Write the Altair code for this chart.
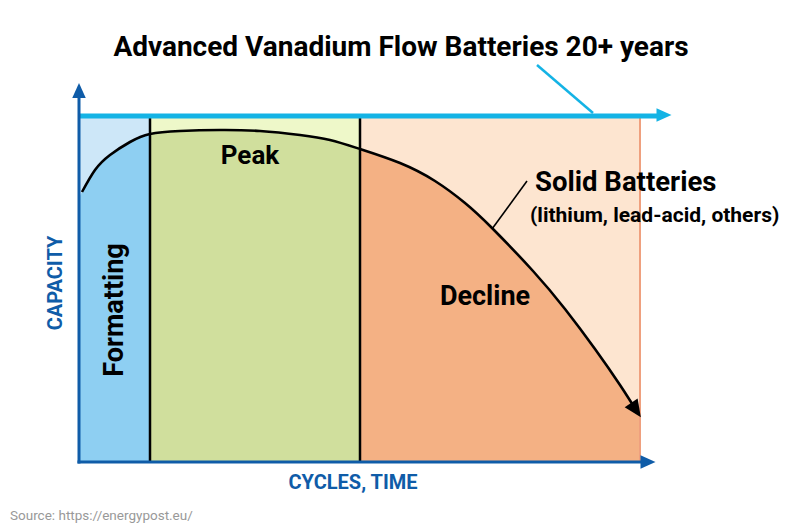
import altair as alt
import pandas as pd

# ---- data (arbitrary units: x = cycles/time, y = capacity) ----
phases = ["Formatting", "Peak", "Decline"]
phase_start = [0, 71, 281]
phase_end = [71, 281, 561]
phase_top = [346, 346, 346]

curve_x = [3, 16, 31, 51, 71, 101, 141, 181, 221, 251, 281, 321, 356, 386, 413, 454, 486, 516, 541, 557]
curve_y = [270, 292, 307, 320, 328, 331, 332, 331, 327, 322, 313, 299, 281, 259, 234, 191, 153, 113, 77, 52]
fill_left = (0, 264)
fill_right = (562, 44)

vanadium_level = 346
vanadium_end = 578
axis_x_end = 562
axis_y_end = 372

light_colors = ["#CDE7F8", "#EEF8C9", "#FDE5D0"]
dark_colors = ["#8ECFF2", "#D0DF9D", "#F4B184"]
BLUE = "#0F5CA8"
CYAN = "#14B3E5"
CURVE = "natural"

XS = alt.Scale(domain=[0, 600], nice=False, zero=False)
YS = alt.Scale(domain=[0, 380], nice=False, zero=False)


def X(f):
    return alt.X(f, type="quantitative", scale=XS, axis=None)


def Y(f, **kw):
    return alt.Y(f, type="quantitative", scale=YS, axis=None, **kw)


layers = []

# region backgrounds (light)
for p, s, e, t, c in zip(phases, phase_start, phase_end, phase_top, light_colors):
    d = pd.DataFrame({"phase": [p], "x": [s], "x2": [e], "y": [0], "y2": [t]})
    layers.append(alt.Chart(d).mark_rect(color=c, opacity=1).encode(
        x=X("x"), x2="x2", y=Y("y"), y2="y2"))

# areas under the curve, split by phase (dark)
ax = [fill_left[0]] + curve_x + [fill_right[0]]
ay = [fill_left[1]] + curve_y + [fill_right[1]]
for p, s, e, c in zip(phases, phase_start, phase_end, dark_colors):
    pts = [(xv, yv) for xv, yv in zip(ax, ay) if s <= xv <= e]
    if pts[-1][0] < e:
        pts.append((e, pts[-1][1]))
    d = pd.DataFrame({"x": [q[0] for q in pts], "y": [q[1] for q in pts]})
    layers.append(alt.Chart(d).mark_area(color=c, opacity=1, interpolate=CURVE).encode(
        x=X("x"), y=Y("y"), y2=alt.datum(0)))

# salmon right edge
layers.append(alt.Chart(pd.DataFrame({"x": [phase_end[2]], "y": [0], "y2": [phase_top[2]]})).mark_rule(
    color="#EFA07E", strokeWidth=2).encode(x=X("x"), y=Y("y"), y2="y2"))

# black separators
layers.append(alt.Chart(pd.DataFrame({"x": phase_end[:2], "y": [0, 0], "y2": phase_top[:2]})).mark_rule(
    color="black", strokeWidth=2.5).encode(x=X("x"), y=Y("y"), y2="y2"))

# vanadium line
layers.append(alt.Chart(pd.DataFrame({"x": [0], "x2": [vanadium_end], "y": [vanadium_level]})).mark_rule(
    color=CYAN, strokeWidth=5).encode(x=X("x"), x2="x2", y=Y("y")))

# axes
axes_df = pd.DataFrame({"x": [0, -1.5], "x2": [0, axis_x_end], "y": [-1.5, 0], "y2": [axis_y_end, 0]})
layers.append(alt.Chart(axes_df).mark_rule(color=BLUE, strokeWidth=3).encode(
    x=X("x"), x2="x2", y=Y("y"), y2="y2"))

TRI = "M0,-1L0.9,1L-0.9,1Z"
for xv, yv, ang, col in [(0, 371.5, 0, BLUE), (569, 0, 90, BLUE), (585, 347, 90, CYAN)]:
    layers.append(alt.Chart(pd.DataFrame({"x": [xv], "y": [yv]})).mark_point(
        shape=TRI, filled=True, opacity=1, size=225, color=col, angle=ang).encode(x=X("x"), y=Y("y")))

# curve
cdf = pd.DataFrame({"x": curve_x, "y": curve_y})
layers.append(alt.Chart(cdf).mark_line(color="black", strokeWidth=2.6, interpolate=CURVE).encode(
    x=X("x"), y=Y("y"), order=alt.Order("x:Q")))
layers.append(alt.Chart(pd.DataFrame({"x": [curve_x[-1]], "y": [curve_y[-1]]})).mark_point(
    shape=TRI, filled=True, opacity=1, size=300, color="black", angle=146).encode(x=X("x"), y=Y("y")))

# leader lines
layers.append(alt.Chart(pd.DataFrame({"x": [458], "y": [397], "x2": [514], "y2": [349]})).mark_rule(
    color=CYAN, strokeWidth=2.5).encode(x=X("x"), y=Y("y"), x2="x2", y2="y2"))
layers.append(alt.Chart(pd.DataFrame({"x": [448], "y": [281], "x2": [413], "y2": [233]})).mark_rule(
    color="black", strokeWidth=1.6).encode(x=X("x"), y=Y("y"), x2="x2", y2="y2"))

FONT = "Roboto"


def label(text, x, y, size, color="black", align="center", angle=0, weight="bold", baseline="middle"):
    kw = dict(text=text, fontSize=size, color=color, align=align, baseline=baseline,
              fontWeight=weight, font=FONT)
    if angle:
        kw["angle"] = angle
    return alt.Chart(pd.DataFrame({"x": [x], "y": [y]})).mark_text(**kw).encode(x=X("x"), y=Y("y"))


layers += [
    label("Advanced Vanadium Flow Batteries 20+ years", 322, 414, 28),
    label("Peak", 171, 306, 26),
    label("Formatting", 36, 152, 27, angle=270),
    label("Decline", 406, 165, 27),
    label("Solid Batteries", 456, 279, 27.5, align="left"),
    label("(lithium, lead-acid, others)", 451, 246, 21, align="left"),
    label("CAPACITY", -23, 179, 20, color=BLUE, angle=270),
    label("CYCLES, TIME", 274, -21, 20, color=BLUE),
    label("Source: https://energypost.eu/", -69, -61, 13.5, color="#999999", align="left",
          weight="normal", baseline="bottom"),
]

chart = alt.layer(*layers).properties(
    width=600, height=380, autosize="none",
    padding={"left": 71, "top": 74, "right": 103, "bottom": 62},
    background="white",
).configure_view(stroke=None)

chart.save("out.html", embed_options={"renderer": "svg", "actions": False})
